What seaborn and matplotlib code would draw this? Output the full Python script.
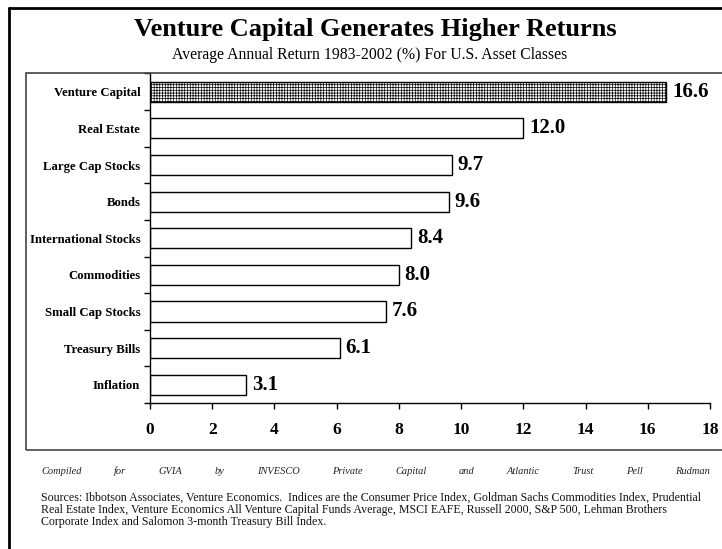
import matplotlib
matplotlib.use("Agg")
import matplotlib.pyplot as plt
from matplotlib.lines import Line2D
from matplotlib.patches import Rectangle
import pandas as pd
import seaborn as sns

# Datos del gráfico
categories = ["Venture Capital", "Real Estate", "Large Cap Stocks", "Bonds",
              "International Stocks", "Commodities", "Small Cap Stocks",
              "Treasury Bills", "Inflation"]
returns = [16.6, 12.0, 9.7, 9.6, 8.4, 8.0, 7.6, 6.1, 3.1]
x_ticks = [0, 2, 4, 6, 8, 10, 12, 14, 16, 18]

title = "Venture Capital Generates Higher Returns"
subtitle = "Average Annual Return 1983-2002 (%) For U.S. Asset Classes"
footer_words = ["Compiled", "for", "GVIA", "by", "INVESCO", "Private", "Capital",
                "and", "Atlantic", "Trust", "Pell", "Rudman"]
sources_lines = [
    "Sources: Ibbotson Associates, Venture Economics.  Indices are the Consumer Price Index, Goldman Sachs Commodities Index, Prudential",
    "Real Estate Index, Venture Economics All Venture Capital Funds Average, MSCI EAFE, Russell 2000, S&P 500, Lehman Brothers",
    "Corporate Index and Salomon 3-month Treasury Bill Index.",
]

sns.set_theme(style="white")
plt.rcParams["font.family"] = ["Liberation Serif", "DejaVu Serif"]
plt.rcParams["text.color"] = "black"
plt.rcParams["hatch.linewidth"] = 0.5

W, H = 722, 549
fig = plt.figure(figsize=(W / 100, H / 100), dpi=100)
ax = fig.add_axes([150 / W, 1 - 403 / H, 560 / W, 329.5 / H])

df = pd.DataFrame({"Asset": categories, "Return": returns})
sns.barplot(data=df, x="Return", y="Asset", orient="h", color="white",
            saturation=1, edgecolor="black", linewidth=1, width=0.55, ax=ax)
ax.patches[0].set_hatch("++++++")  # barra de venture capital con trama

ax.bar_label(ax.containers[0], fmt="%.1f", padding=4, fontsize=15, fontweight="bold")

ax.set_xlim(0, 18)
ax.set_xticks(x_ticks)
ax.set_xlabel("")
ax.set_ylabel("")
for side in ["top", "right"]:
    ax.spines[side].set_visible(False)
for side in ["left", "bottom"]:
    ax.spines[side].set_color("black")
    ax.spines[side].set_linewidth(1)

ax.tick_params(axis="x", bottom=True, length=4, width=1, color="black",
               direction="out", pad=10, labelsize=12.5, labelcolor="black")
ax.tick_params(axis="y", which="major", left=True, length=0, pad=7,
               labelsize=9.2, labelcolor="black")
ax.set_yticks([i + 0.5 for i in range(-1, len(categories))], minor=True)
ax.tick_params(axis="y", which="minor", left=True, length=4, width=1,
               color="black", direction="out")
plt.setp(ax.get_xticklabels(), fontweight="bold")
plt.setp(ax.get_yticklabels(), fontweight="bold")

# Marco interior y marco exterior
fig.add_artist(Rectangle((26 / W, 1 - 450 / H), 710 / W, 377 / H, transform=fig.transFigure,
                         fill=False, edgecolor="#444444", lw=1.2))
fig.add_artist(Line2D([9 / W, 9 / W], [0, 1 - 8 / H], color="black", lw=2))
fig.add_artist(Line2D([9 / W, 1], [1 - 8 / H, 1 - 8 / H], color="black", lw=2))

fig.text(375 / W, 1 - 36 / H, title, ha="center", va="baseline",
         fontsize=19, fontweight="bold")
fig.text(370 / W, 1 - 59 / H, subtitle, ha="center", va="baseline", fontsize=11.3)

# Pie de página justificado
renderer = fig.canvas.get_renderer()
words = [fig.text(0, 1 - 474 / H, w, fontsize=7.5, style="italic", color="#222222",
                  va="baseline") for w in footer_words]
widths = [t.get_window_extent(renderer).width for t in words]
x0, x1 = 41, 710
gap = (x1 - x0 - sum(widths)) / (len(words) - 1)
x = x0
for t, wd in zip(words, widths):
    t.set_x(x / W)
    x += wd + gap

for i, line in enumerate(sources_lines):
    fig.text(41 / W, 1 - (501 + 12 * i) / H, line, fontsize=8.6, va="baseline",
             color="#111111")

fig.savefig("out.png", dpi=100)
